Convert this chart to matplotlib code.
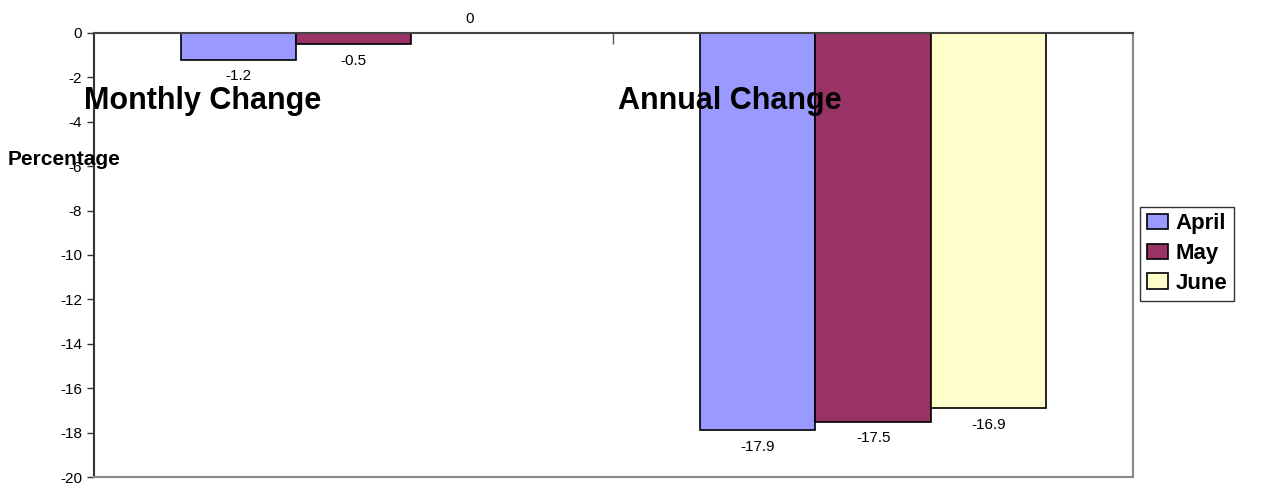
import numpy as np
import matplotlib
matplotlib.use('Agg')
import matplotlib.pyplot as plt

plt.rcParams['font.family'] = ['Liberation Sans', 'DejaVu Sans']

# Data
categories = ['Monthly Change', 'Annual Change']
series_names = ['April', 'May', 'June']
april = [-1.2, -17.9]
may = [-0.5, -17.5]
june = [0.0, -16.9]
series_values = [april, may, june]
colors = ['#9999FF', '#993366', '#FFFFCC']
y_ticks = list(range(-20, 1, 2))

fig = plt.figure(figsize=(12.67, 4.88), dpi=100)
ax = fig.add_axes([0.0742, 0.0225, 0.82, 0.91])

x = np.arange(len(categories))
width = 1 / 4.5
for i, (name, vals, col) in enumerate(zip(series_names, series_values, colors)):
    pos = x + (i - 1) * width
    ax.bar(pos, vals, width, color=col, edgecolor='black', linewidth=1.2,
           label=name, zorder=2)
    for px, v in zip(pos, vals):
        if v < 0:
            ax.annotate(f'{v:g}', (px, v), xytext=(0, -7), textcoords='offset points',
                        ha='center', va='top', fontsize=11)
        else:
            ax.annotate(f'{v:g}', (px, v), xytext=(0, 5), textcoords='offset points',
                        ha='center', va='bottom', fontsize=11)

ax.set_xlim(-0.5, 1.5)
ax.set_ylim(-20, 0)
ax.set_yticks(y_ticks)
ax.set_yticklabels([str(t) for t in y_ticks], fontsize=11)
ax.tick_params(axis='y', direction='out', length=5, width=1, color='#333333')

# category axis sits at the top (value 0)
ax.xaxis.set_ticks_position('top')
ax.set_xticks([0.5])
ax.set_xticklabels([])
ax.tick_params(axis='x', direction='in', length=8, width=1, color='#555555')

for side in ['right', 'bottom']:
    ax.spines[side].set_color('#888888')
    ax.spines[side].set_linewidth(1.5)
ax.spines['left'].set_color('#333333')
ax.spines['left'].set_linewidth(1.5)
ax.spines['top'].set_color('#444444')
ax.spines['top'].set_linewidth(1.5)
ax.spines['top'].set_zorder(3)

# category labels (drawn where the original chart puts them)
ax.text(0.105, 0.847, categories[0], transform=ax.transAxes, ha='center', va='center',
        fontsize=22, fontweight='bold', zorder=4)
ax.text(0.612, 0.847, categories[1], transform=ax.transAxes, ha='center', va='center',
        fontsize=22, fontweight='bold', zorder=4)

fig.text(8 / 1267, 1 - 160 / 488, 'Percentage', ha='left', va='center',
         fontsize=15, fontweight='bold')

leg = ax.legend(loc='center left', bbox_to_anchor=(0.007, 0.503), fontsize=16,
                prop={'weight': 'bold', 'size': 16}, frameon=True, fancybox=False,
                edgecolor='black', handlelength=0.95, handleheight=0.7,
                handletextpad=0.35, borderpad=0.3, labelspacing=0.4, borderaxespad=0,
                bbox_transform=ax.transAxes)
leg.set_bbox_to_anchor((1.007, 0.503), transform=ax.transAxes)
leg.get_frame().set_linewidth(1.0)

fig.savefig('out.png', dpi=100, facecolor='white')
